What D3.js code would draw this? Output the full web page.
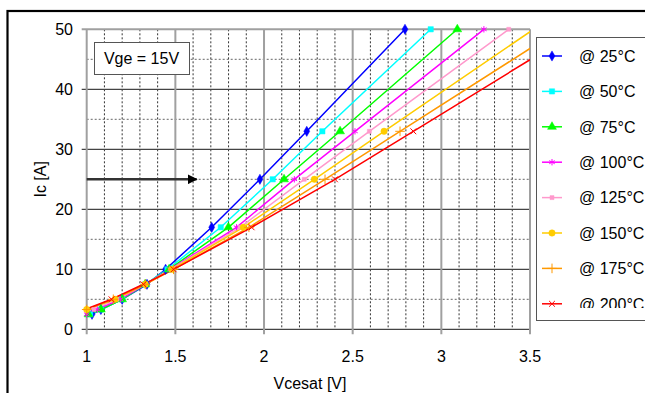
<!DOCTYPE html>
<html>
<head>
<meta charset="utf-8">
<script src="https://cdn.jsdelivr.net/npm/d3@7"></script>
<style>
  body { margin: 0; background: #fff; }
  svg { display: block; font-family: Arial, "Liberation Sans", sans-serif; }
</style>
</head>
<body>
<div id="chart"></div>
<script>
// collector current levels [A] where the curves were read
const icLevels = [2.5, 3.3, 5, 7.5, 10, 17, 25, 33, 50];

// Vcesat [V] per temperature at each current level
const vce25  = [1.03, 1.08, 1.20, 1.34, 1.445, 1.705, 1.977, 2.241, 2.795];
const vce50  = [1.02, 1.08, 1.20, 1.33, 1.455, 1.756, 2.049, 2.329, 2.94];
const vce75  = [1.01, 1.08, 1.20, 1.33, 1.465, 1.799, 2.113, 2.429, 3.09];
const vce100 = [1.00, 1.06, 1.19, 1.33, 1.47, 1.845, 2.171, 2.513, 3.24];
const vce125 = [0.98, 1.04, 1.17, 1.33, 1.475, 1.865, 2.227, 2.594, 3.38];
const vce150 = [0.95, 1.00, 1.16, 1.33, 1.48, 1.883, 2.284, 2.677, 3.52];
const vce175 = [0.95, 1.00, 1.15, 1.33, 1.49, 1.915, 2.344, 2.767, 3.67];
const vce200 = [0.93, 0.99, 1.14, 1.32, 1.49, 1.93, 2.40, 2.842, 3.78];

const labels = ["@ 25°C", "@ 50°C", "@ 75°C", "@ 100°C", "@ 125°C", "@ 150°C", "@ 175°C", "@ 200°C"];
const colors = ["#0000ff", "#00ffff", "#00ff00", "#ff00ff", "#ff99cc", "#ffcc00", "#ff9900", "#ff0000"];
const xTicks = [1, 1.5, 2, 2.5, 3, 3.5];
const yTicks = [0, 10, 20, 30, 40, 50];

const width = 645;
const height = 393;

const x = d3.scaleLinear().domain([1, 3.5]).range([86.7, 530]);
const y = d3.scaleLinear().domain([0, 50]).range([329.3, 29.3]);

const svg = d3.select("#chart")
    .append("svg")
        .attr("width", width)
        .attr("height", height);

// outer chart frame
svg.append("rect")
    .attr("x", 7.5).attr("y", 11)
    .attr("width", 700).attr("height", 500)
    .attr("fill", "none")
    .attr("stroke", "#000")
    .attr("stroke-width", 2.2);

// minor dashed grid
svg.append("g")
    .selectAll("line")
    .data(d3.range(1.1, 3.5, 0.1).filter(v => Math.abs(v * 2 - Math.round(v * 2)) > 0.01))
    .join("line")
        .attr("x1", d => x(d)).attr("x2", d => x(d))
        .attr("y1", y(50)).attr("y2", y(0))
        .attr("stroke", "#333")
        .attr("stroke-dasharray", "2,2")
        .attr("stroke-width", 1);

svg.append("g")
    .selectAll("line")
    .data([5, 15, 25, 35, 45])
    .join("line")
        .attr("x1", x(1)).attr("x2", x(3.5))
        .attr("y1", d => y(d)).attr("y2", d => y(d))
        .attr("stroke", "#666")
        .attr("stroke-dasharray", "2,2")
        .attr("stroke-width", 1);

// major horizontal lines + y ticks
svg.append("g")
    .selectAll("line")
    .data(yTicks.slice(0, 5))
    .join("line")
        .attr("x1", x(1) - 5).attr("x2", x(3.5))
        .attr("y1", d => y(d)).attr("y2", d => y(d))
        .attr("stroke", "#444")
        .attr("stroke-width", 1.2);

svg.append("line")
    .attr("x1", x(1) - 5).attr("x2", x(3.5))
    .attr("y1", y(50)).attr("y2", y(50))
    .attr("stroke", "#a0a0a0")
    .attr("stroke-width", 2);

// major vertical lines + x ticks
svg.append("g")
    .selectAll("line")
    .data(xTicks)
    .join("line")
        .attr("x1", d => x(d)).attr("x2", d => x(d))
        .attr("y1", y(50)).attr("y2", y(0) + 5)
        .attr("stroke", "#a0a0a0")
        .attr("stroke-width", 2);

// tick labels
svg.append("g")
    .selectAll("text")
    .data(yTicks)
    .join("text")
        .attr("x", 73)
        .attr("y", d => y(d))
        .attr("dy", "0.36em")
        .attr("text-anchor", "end")
        .attr("font-size", 16)
        .text(d => d);

svg.append("g")
    .selectAll("text")
    .data(xTicks)
    .join("text")
        .attr("x", d => x(d))
        .attr("y", 356)
        .attr("dy", "0.36em")
        .attr("text-anchor", "middle")
        .attr("font-size", 16)
        .text(d => d);

svg.append("text")
    .attr("x", 310).attr("y", 383)
    .attr("dy", "0.36em")
    .attr("text-anchor", "middle")
    .attr("font-size", 16)
    .text("Vcesat [V]");

svg.append("text")
    .attr("transform", `translate(40, ${(y(0) + y(50)) / 2}) rotate(-90)`)
    .attr("dy", "0.36em")
    .attr("text-anchor", "middle")
    .attr("font-size", 16)
    .text("Ic [A]");

// arrow at 25 A
svg.append("defs").append("marker")
    .attr("id", "arrowHead")
    .attr("viewBox", "0 0 10 10")
    .attr("refX", 9).attr("refY", 5)
    .attr("markerWidth", 4).attr("markerHeight", 4)
    .attr("markerUnits", "strokeWidth")
    .attr("orient", "auto")
  .append("path")
    .attr("d", "M0,0L10,5L0,10Z")
    .attr("fill", "#000");

svg.append("line")
    .attr("x1", x(1)).attr("x2", x(1.62))
    .attr("y1", y(25)).attr("y2", y(25))
    .attr("stroke", "#333")
    .attr("stroke-width", 2.5)
    .attr("marker-end", "url(#arrowHead)");

// Vge box
svg.append("rect")
    .attr("x", 94.5).attr("y", 42.5)
    .attr("width", 95).attr("height", 32)
    .attr("fill", "#fff")
    .attr("stroke", "#555")
    .attr("stroke-width", 1);

svg.append("text")
    .attr("x", 141.5).attr("y", 58.5)
    .attr("dy", "0.36em")
    .attr("text-anchor", "middle")
    .attr("font-size", 16)
    .text("Vge = 15V");

// curves
const series = [vce25, vce50, vce75, vce100, vce125, vce150, vce175, vce200]
    .map((v, i) => ({ label: labels[i], color: colors[i], points: v.map((d, j) => [d, icLevels[j]]) }));

const symbolStar = d3.symbolAsterisk || d3.symbolCross;
const symbolTimes = d3.symbolTimes || d3.symbolX || d3.symbolCross;
const symbolPlus = d3.symbolPlus || d3.symbolCross;
const markerDefs = [
    { type: d3.symbolDiamond, size: 30, fill: true },
    { type: d3.symbolSquare, size: 28, fill: true },
    { type: d3.symbolTriangle, size: 34, fill: true },
    { type: symbolStar, size: 28, fill: false },
    { type: d3.symbolSquare, size: 16, fill: true },
    { type: d3.symbolCircle, size: 32, fill: true },
    { type: symbolPlus, size: 32, fill: false },
    { type: symbolTimes, size: 24, fill: false }
];

svg.append("clipPath")
    .attr("id", "plotClip")
  .append("rect")
    .attr("x", x(1)).attr("y", 15)
    .attr("width", x(3.5) - x(1)).attr("height", y(0) - 15);

const line = d3.line()
    .x(d => x(d[0]))
    .y(d => y(d[1]));

const plot = svg.append("g").attr("clip-path", "url(#plotClip)");

plot.selectAll("path")
    .data(series)
    .join("path")
        .attr("d", d => line(d.points))
        .attr("fill", "none")
        .attr("stroke", d => d.color)
        .attr("stroke-width", 1.5);

function drawMarker(sel, i, color) {
    const m = markerDefs[i];
    sel.attr("d", d3.symbol().type(m.type).size(m.size))
        .attr("fill", m.fill ? color : "none")
        .attr("stroke", color)
        .attr("stroke-width", m.fill ? 0.5 : 1);
}

series.forEach((s, i) => {
    svg.append("g")
        .selectAll("path")
        .data(s.points.filter(p => p[0] >= 1 && p[0] <= 3.5))
        .join("path")
            .attr("transform", d => `translate(${x(d[0])},${y(d[1])})`)
            .call(drawMarker, i, s.color);
});

// legend
svg.append("rect")
    .attr("x", 536.5).attr("y", 37.5)
    .attr("width", 200).attr("height", 283)
    .attr("fill", "#fff")
    .attr("stroke", "#555")
    .attr("stroke-width", 1);

svg.append("clipPath")
    .attr("id", "legendClip")
  .append("rect")
    .attr("x", 537).attr("y", 38)
    .attr("width", 200).attr("height", 270);

const legend = svg.append("g").attr("clip-path", "url(#legendClip)");

const row = legend.selectAll("g")
    .data(series)
    .join("g")
        .attr("transform", (d, i) => `translate(0, ${56 + i * 35.4})`);

row.append("line")
    .attr("x1", 542).attr("x2", 562)
    .attr("stroke", d => d.color)
    .attr("stroke-width", 1.5);

row.append("path")
    .attr("transform", "translate(552,0)")
    .each(function(d, i) { d3.select(this).call(drawMarker, i, d.color); });

row.append("text")
    .attr("x", 579)
    .attr("dy", "0.36em")
    .attr("font-size", 16)
    .text(d => d.label);
</script>
</body>
</html>
